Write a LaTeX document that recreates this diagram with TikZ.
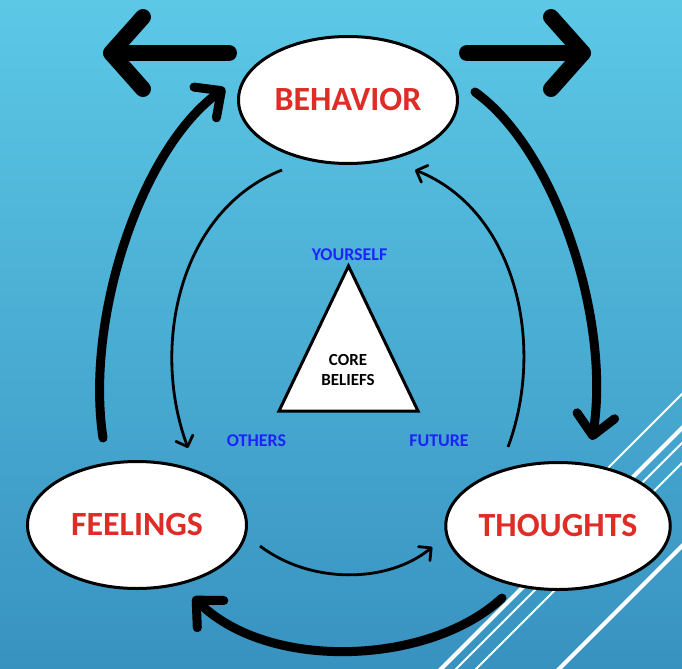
\documentclass[tikz,border=0pt]{standalone}
\usepackage{fontspec}
\setmainfont{Carlito}
\usetikzlibrary{arrows.meta,shapes.geometric}
\definecolor{bgtop}{RGB}{92,200,230}
\definecolor{bgbot}{RGB}{56,146,192}
\definecolor{labred}{RGB}{222,44,38}
\definecolor{labblue}{RGB}{28,36,250}
\tikzset{
        bubble/.style={ellipse, draw, fill=white, line width=3bp, minimum width=219bp, minimum height=127bp, inner sep=0pt, text=labred, font=\bfseries\fontsize{34}{40}\selectfont},
        corner/.style={text=labblue, inner sep=0pt, font=\bfseries\fontsize{18}{20}\selectfont},
        toparrow/.style={line width=16bp, line cap=round, -{Straight Barb[length=32bp,width=72bp,round]}},
        bigarrow/.style={line width=9bp, line cap=round, -{Straight Barb[length=20bp,width=38bp,round]}},
        thinarrow/.style={line width=2.8bp, -{Straight Barb[length=9bp,width=18bp,round]}},
        stripe/.style={white, line width=#1}
    }
\begin{document}
\begin{tikzpicture}[x=1bp,y=-1bp]
\shade[top color=bgtop,bottom color=bgbot] (0,0) rectangle (682,669);
\useasboundingbox (0,0) rectangle (682,669);
\begin{scope}
\clip (0,0) rectangle (682,669);
\draw[stripe=2bp] (600,476) -- (700,376);
\draw[stripe=4bp] (420,690) -- (700,410);
\draw[stripe=2bp] (435,690) -- (700,425);
\draw[stripe=2bp] (455,690) -- (700,445);
\draw[stripe=4bp] (538,690) -- (700,528);
\end{scope}

\node[bubble] (B) at (348,100) {BEHAVIOR};
\node[bubble] (F) at (137,525) {FEELINGS};
\node[bubble] (T) at (558,526) {THOUGHTS};

\coordinate (Ya) at (348.5,266);
\coordinate (Oa) at (279,411);
\coordinate (Fa) at (418,411);
\draw[line width=3bp, fill=white] (Ya) -- (Oa) -- (Fa) -- cycle;
\node[inner sep=0pt, align=center, font=\bfseries\fontsize{17}{21}\selectfont] (CB) at (348,370) {CORE\\BELIEFS};
\node[corner] (Y) at (349.5,255) {YOURSELF};
\node[corner] (O) at (256.5,441) {OTHERS};
\node[corner] (Fu) at (439,441) {FUTURE};

\coordinate (outL) at (103,53);
\coordinate (outR) at (591,53);
\draw[toparrow] ([shift={(-8,-47)}]B.west) -- (outL);
\draw[toparrow] ([shift={(8,-47)}]B.east) -- (outR);

\draw[bigarrow] ([shift={(-34,-22)}]F.north) .. controls +(-18,-118) and +(-85,62) .. ([shift={(-12,-12)}]B.west);
\draw[bigarrow] ([shift={(16,-8)}]B.east) .. controls +(81,58) and +(19,-120) .. ([shift={(34,-21)}]T.north);
\draw[bigarrow] ([shift={(-56,7)}]T.south) .. controls +(-72,67) and +(77,75) .. ([shift={(56,7)}]F.south);

\draw[thinarrow] ([shift={(-66,5)}]B.south) .. controls +(-102,40) and +(-38,-103) .. ([shift={(51,-12)}]F.north);
\draw[thinarrow] ([shift={(-50,-14)}]T.north) .. controls +(38,-102) and +(101,40) .. ([shift={(67,5)}]B.south);
\draw[thinarrow] ([shift={(12,21)}]F.east) .. controls +(50,38) and +(-45,37) .. ([shift={(-12,21)}]T.west);

\end{tikzpicture}
\end{document}
